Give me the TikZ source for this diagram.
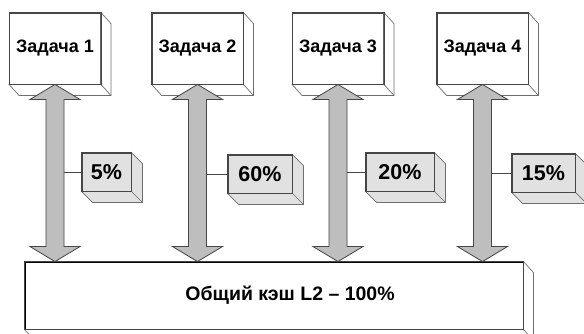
\documentclass[tikz,border=0pt]{standalone}
\usepackage{fontspec}
\setmainfont{Liberation Sans}
\usetikzlibrary{calc}
\definecolor{arrowgray}{RGB}{190,190,190}
\definecolor{sharegray}{RGB}{225,225,225}
\definecolor{edgegray}{RGB}{70,70,70}
\definecolor{sidegray}{RGB}{110,110,110}
\tikzstyle{task} = [rectangle, draw=edgegray, line width=0.9pt, fill=white, minimum width=91pt, minimum height=71pt, inner sep=0pt, text centered, font=\fontsize{18}{21}\selectfont\bfseries]
\tikzstyle{share} = [rectangle, draw=edgegray, line width=0.9pt, fill=sharegray, minimum height=38pt, inner sep=0pt, text centered, font=\fontsize{21.5}{24}\selectfont\bfseries]
\tikzstyle{cache} = [rectangle, draw=black, line width=0.9pt, fill=white, minimum width=498pt, minimum height=67pt, inner sep=0pt, text centered, font=\fontsize{19.5}{22}\selectfont\bfseries]
\tikzstyle{face} = [draw=sidegray, line width=0.7pt, line join=miter]
\tikzstyle{blockarrow} = [draw=edgegray, fill=arrowgray, line width=0.8pt, line join=miter]
\tikzstyle{link} = [draw=edgegray, line width=0.7pt]
% side and bottom faces of a box: node, fill, dx, dy
\newcommand{\boxfaces}[4]{%
  \filldraw[face, fill=#2] (#1.north east) -- ++(#3,#4) -- ($(#1.south east)+(#3,#4)$) -- ($(#1.south west)+(#3,#4)$) -- (#1.south west) -- (#1.south east) -- cycle;
  \draw[face] (#1.south east) -- ++(#3,#4);
  \draw[draw=edgegray, line width=0.9pt] (#1.north west) rectangle (#1.south east);}
% double block arrow from a task down to the cache
\newcommand{\dblarrow}[2]{%
  \draw[blockarrow] let \p1=(#1.south), \p2=(#2.north -| #1.south) in
    (\x1,\y1) -- (\x1+25pt,\y1-15pt) -- (\x1+9pt,\y1-15pt) -- (\x1+9pt,\y2+15pt) -- (\x1+25pt,\y2+15pt) -- (\x1,\y2)
    -- (\x1-25pt,\y2+15pt) -- (\x1-9pt,\y2+15pt) -- (\x1-9pt,\y1-15pt) -- (\x1-25pt,\y1-15pt) -- cycle;}

\begin{document}
\begin{tikzpicture}[x=1pt, y=-1pt]
  \useasboundingbox (0,0) rectangle (584,334);
  \fill[white] (0,0) rectangle (584,334);

  \node [task] at (55,48.5) (task1) {Задача 1};
  \node [task] at (197.5,48.5) (task2) {Задача 2};
  \node [task] at (338,48.5) (task3) {Задача 3};
  \node [task] at (482.5,48.5) (task4) {Задача 4};
  \boxfaces{task1}{white}{10}{11}
  \boxfaces{task2}{white}{10}{11}
  \boxfaces{task3}{white}{10}{11}
  \boxfaces{task4}{white}{10}{11}

  \node [cache] at (274,295.5) (cache) {\hspace*{32pt}Общий кэш L2 – 100\%};
  \boxfaces{cache}{white}{10}{11}

  \dblarrow{task1}{cache}
  \dblarrow{task2}{cache}
  \dblarrow{task3}{cache}
  \dblarrow{task4}{cache}

  \node [share, minimum width=49pt] at (106.5,172) (share1) {5\%};
  \node [share, minimum width=64pt] at (260,174) (share2) {60\%};
  \node [share, minimum width=68pt] at (400,172) (share3) {20\%};
  \node [share, minimum width=63pt] at (543.5,173) (share4) {15\%};
  \boxfaces{share1}{sharegray}{11}{11}
  \boxfaces{share2}{sharegray}{11}{11}
  \boxfaces{share3}{sharegray}{11}{11}
  \boxfaces{share4}{sharegray}{11}{11}

  \draw [link] (share1.west) -- ([xshift=9pt]task1.south |- share1.west);
  \draw [link] (share2.west) -- ([xshift=9pt]task2.south |- share2.west);
  \draw [link] (share3.west) -- ([xshift=9pt]task3.south |- share3.west);
  \draw [link] (share4.west) -- ([xshift=9pt]task4.south |- share4.west);
\end{tikzpicture}
\end{document}
